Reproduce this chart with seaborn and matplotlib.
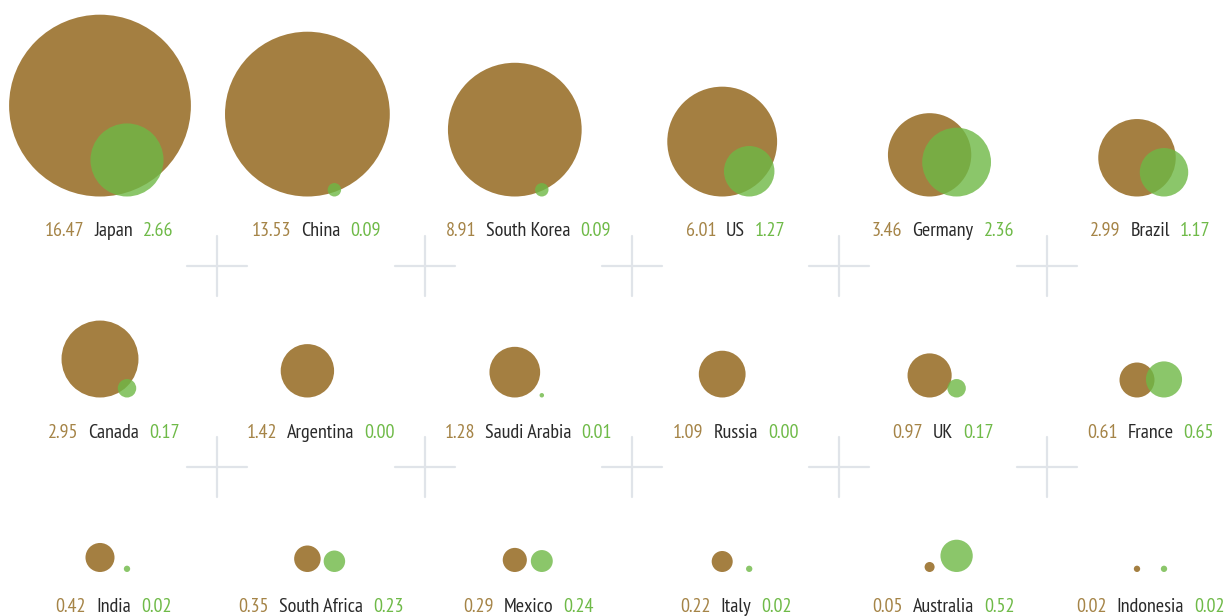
import numpy as np
import pandas as pd
import matplotlib
matplotlib.use('Agg')
import matplotlib.pyplot as plt
import seaborn as sns

countries = ['Japan', 'China', 'South Korea', 'US', 'Germany', 'Brazil',
             'Canada', 'Argentina', 'Saudi Arabia', 'Russia', 'UK', 'France',
             'India', 'South Africa', 'Mexico', 'Italy', 'Australia', 'Indonesia']
brown_vals = [16.47, 13.53, 8.91, 6.01, 3.46, 2.99,
              2.95, 1.42, 1.28, 1.09, 0.97, 0.61,
              0.42, 0.35, 0.29, 0.22, 0.05, 0.02]
green_vals = [2.66, 0.09, 0.09, 1.27, 2.36, 1.17,
              0.17, 0.00, 0.01, 0.00, 0.17, 0.65,
              0.02, 0.23, 0.24, 0.02, 0.52, 0.02]

BROWN = '#a47f41'
GREEN = '#6eb845'
BROWN_TXT = '#a58447'
GREEN_TXT = '#6fba48'
DARK = '#2a2a2a'
CROSS = '#e0e4e9'

# layout in pixels (axes spans whole figure, 1 data unit = 1 px)
W, H, DPI = 1225, 616, 100
ncols = 6
x0, dx = 113.5, 207.4
row_base = [196.5, 397.5, 572.0]
cross_y = [266.0, 466.7]
pair_off = 13.5
k = 22.4  # radius px per sqrt(value)

sns.set_style('white')
plt.rcParams['font.family'] = ['PT Sans Narrow', 'Fira Sans Condensed', 'DejaVu Sans']

idx = np.arange(len(countries))
cx = x0 + dx * (idx % ncols)
base = np.array(row_base)[idx // ncols]

df = pd.DataFrame({'country': countries, 'brown': brown_vals, 'green': green_vals,
                   'cx': cx, 'base': base})
df['bx'] = df['cx'] - pair_off
df['gx'] = df['cx'] + pair_off
df['by'] = df['base'] - k * np.sqrt(df['brown'])
df['gy'] = df['base'] - k * np.sqrt(df['green'])

fig = plt.figure(figsize=(W / DPI, H / DPI), dpi=DPI)
ax = fig.add_axes([0, 0, 1, 1])

vmax = max(brown_vals)
smax = (2 * k * 72 / DPI) ** 2 * vmax
sns.scatterplot(data=df, x='bx', y='by', size='brown', sizes=(0, smax), size_norm=(0, vmax),
                color=BROWN, linewidth=0, legend=False, ax=ax, zorder=2)
sns.scatterplot(data=df, x='gx', y='gy', size='green', sizes=(0, smax), size_norm=(0, vmax),
                color=GREEN, alpha=0.8, linewidth=0, legend=False, ax=ax, zorder=3)

# crosshairs between cells
arm = 30
for cy in cross_y:
    for i in range(ncols - 1):
        xc = x0 + dx * i + dx / 2
        ax.plot([xc - arm, xc + arm], [cy, cy], color=CROSS, lw=1.6, zorder=1)
        ax.plot([xc, xc], [cy - arm, cy + arm], color=CROSS, lw=1.6, zorder=1)

ax.set_xlim(0, W)
ax.set_ylim(H, 0)
ax.axis('off')

fig.canvas.draw()
renderer = fig.canvas.get_renderer()
fs = 14.5
gap = 10
for _, r in df.iterrows():
    ty = r['base'] + 40
    t = ax.text(r['cx'], ty, r['country'], ha='center', va='baseline', fontsize=fs, color=DARK)
    w = t.get_window_extent(renderer).width
    ax.text(r['cx'] - w / 2 - gap, ty, f"{r['brown']:.2f}", ha='right', va='baseline',
            fontsize=fs, color=BROWN_TXT)
    ax.text(r['cx'] + w / 2 + gap, ty, f"{r['green']:.2f}", ha='left', va='baseline',
            fontsize=fs, color=GREEN_TXT)

fig.savefig('out.png', dpi=DPI)
